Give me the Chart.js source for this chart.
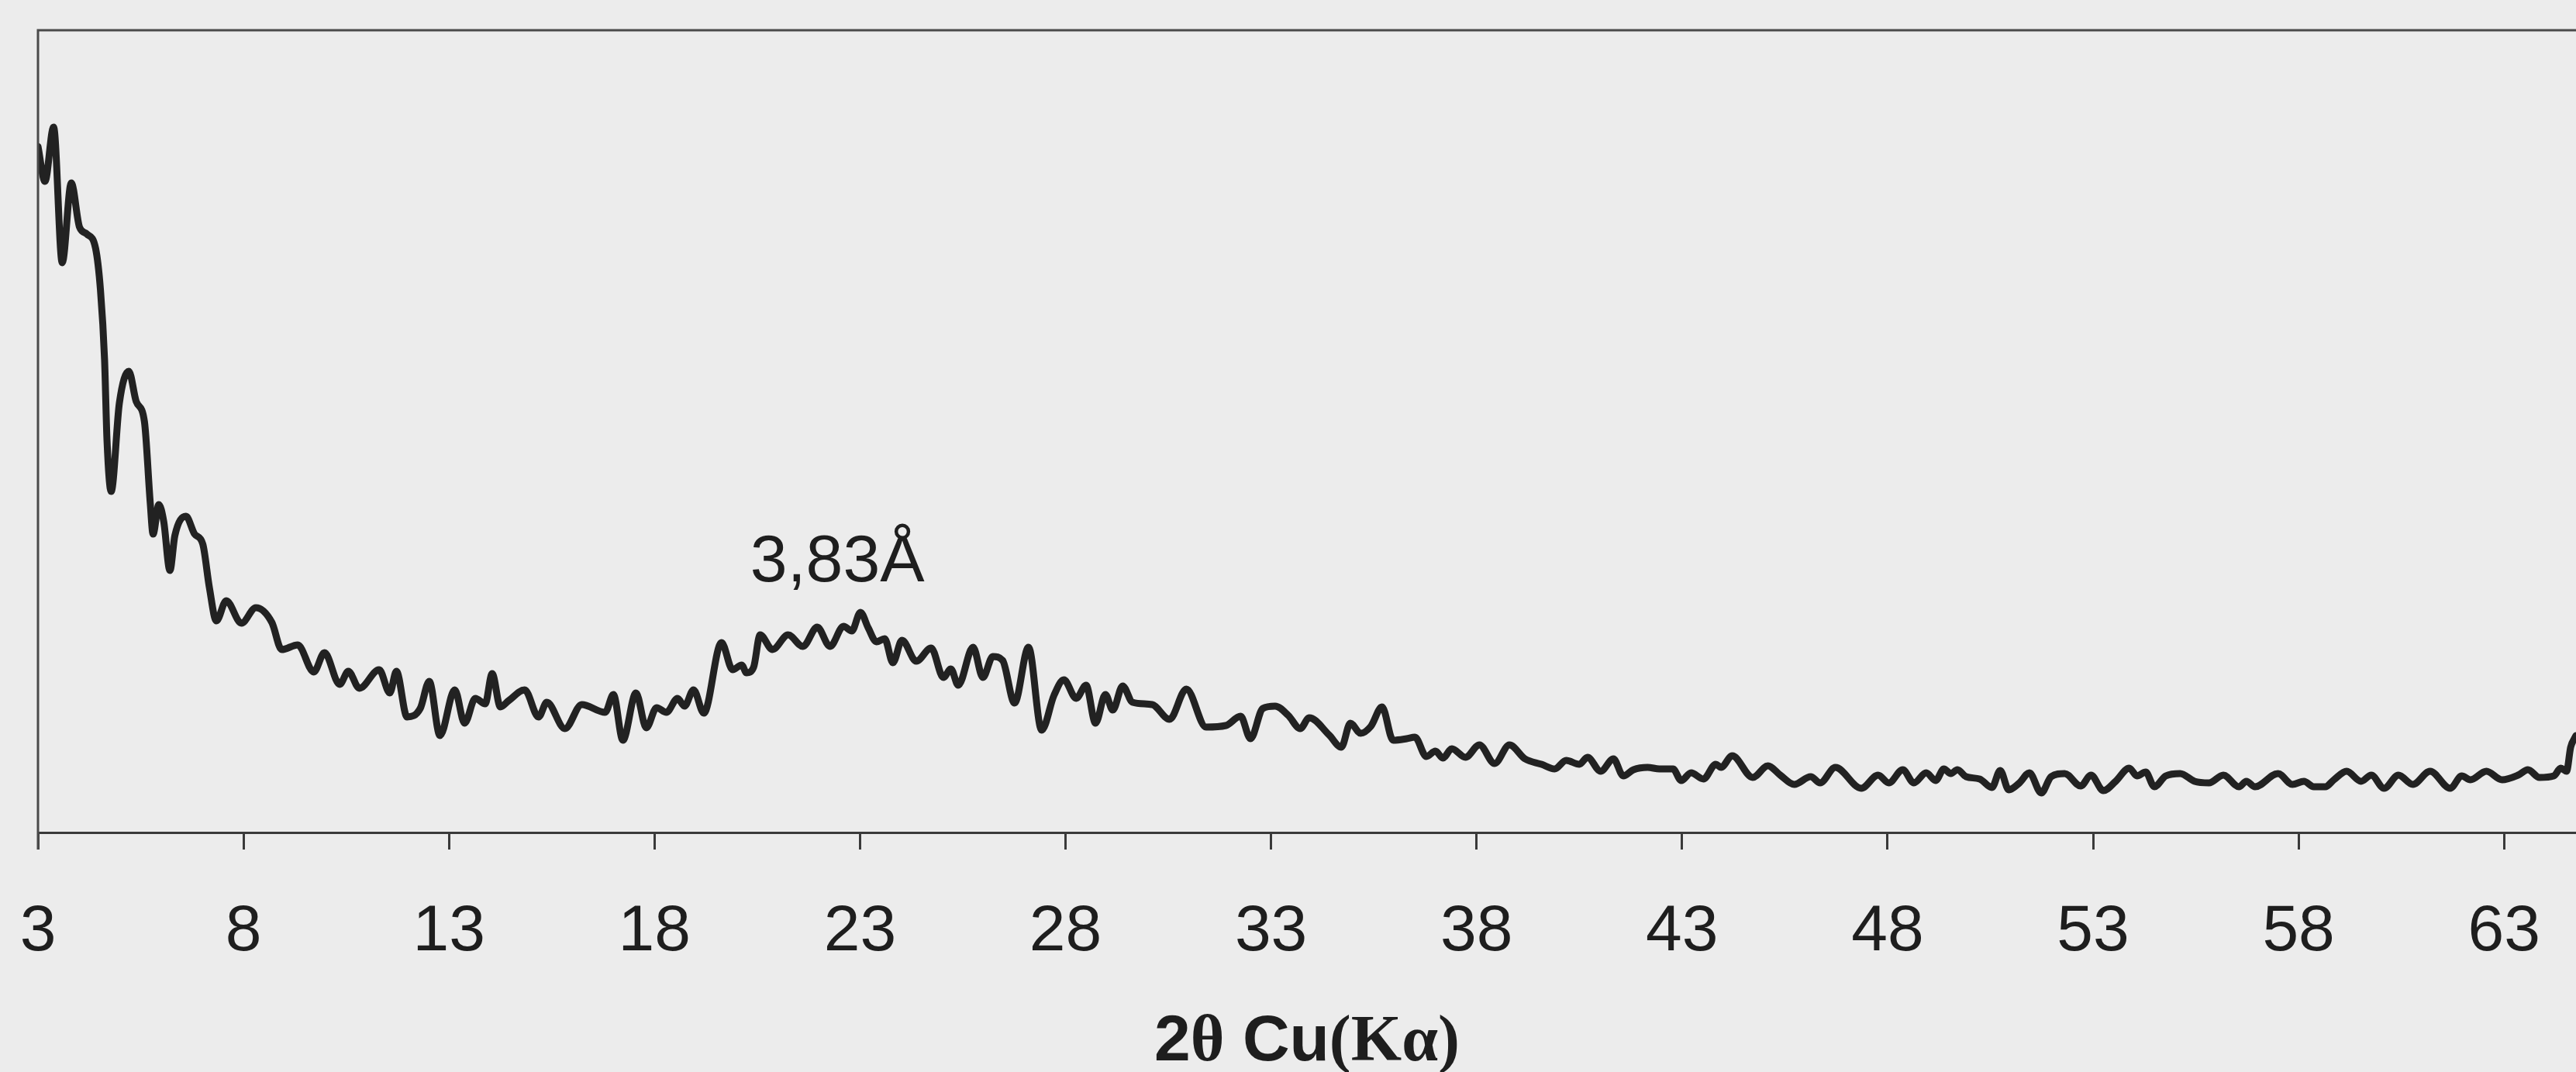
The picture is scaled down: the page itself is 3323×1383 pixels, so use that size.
<!DOCTYPE html>
<html>
<head>
<meta charset="utf-8">
<title>XRD 2θ scan</title>
<script src="https://cdn.jsdelivr.net/npm/chart.js@4.4.1/dist/chart.umd.min.js"></script>
<style>
  html, body { margin: 0; padding: 0; background: #ececec; }
  #wrap { width: 3323px; height: 1383px; }
</style>
</head>
<body>
<div id="wrap"><canvas id="xrd" width="3323" height="1383"></canvas></div>
<script>
// diffractogram trace, 2θ in degrees and intensity in arbitrary units
const twoTheta = [
  3.00, 3.17, 3.38, 3.59, 3.81, 4.01, 4.19, 4.40, 4.52, 4.62, 4.68, 4.78, 4.98, 5.21, 5.39, 5.59,
  5.73, 5.80, 5.94, 6.06, 6.21, 6.33, 6.60, 6.81, 7.01, 7.17, 7.34, 7.58, 7.95, 8.30, 8.69, 8.93,
  9.32, 9.71, 9.97, 10.34, 10.55, 10.82, 11.30, 11.56, 11.72, 11.98, 12.30, 12.52, 12.78, 13.14,
  13.38, 13.64, 13.88, 14.05, 14.25, 14.45, 14.84, 15.18, 15.38, 15.82, 16.23, 16.80, 17.00, 17.23,
  17.55, 17.80, 18.05, 18.29, 18.56, 18.73, 18.95, 19.20, 19.63, 19.90, 20.12, 20.24, 20.41, 20.57,
  20.87, 21.25, 21.61, 21.96, 22.27, 22.60, 22.80, 23.01, 23.20, 23.40, 23.60, 23.80, 24.02, 24.37,
  24.73, 25.03, 25.21, 25.39, 25.75, 25.99, 26.23, 26.47, 26.76, 27.10, 27.42, 27.72, 27.96, 28.26,
  28.50, 28.73, 28.97, 29.15, 29.39, 29.63, 30.11, 30.53, 30.94, 31.42, 31.90, 32.26, 32.50, 32.80,
  33.10, 33.42, 33.71, 33.93, 34.41, 34.71, 34.93, 35.18, 35.43, 35.70, 35.97, 36.30, 36.50, 36.78,
  37.00, 37.18, 37.40, 37.73, 38.07, 38.44, 38.80, 39.18, 39.58, 39.90, 40.18, 40.50, 40.70, 41.02,
  41.33, 41.57, 41.82, 42.16, 42.45, 42.78, 42.98, 43.22, 43.52, 43.82, 43.95, 44.22, 44.72, 45.09,
  45.39, 45.73, 46.13, 46.36, 46.73, 47.36, 47.77, 48.03, 48.37, 48.64, 48.94, 49.17, 49.37, 49.54,
  49.70, 49.91, 50.24, 50.54, 50.74, 50.95, 51.21, 51.45, 51.74, 51.98, 52.31, 52.70, 52.95, 53.25,
  53.55, 53.88, 54.07, 54.28, 54.49, 54.77, 55.12, 55.47, 55.82, 56.17, 56.55, 56.73, 56.94, 57.50,
  57.85, 58.13, 58.37, 58.65, 58.86, 59.17, 59.52, 59.77, 60.08, 60.43, 60.78, 61.20, 61.69, 61.97,
  62.18, 62.57, 62.95, 63.34, 63.58, 63.86, 64.21, 64.38, 64.52, 64.62, 64.75
];

const intensity = [
  885, 840, 910, 735, 838, 781, 772, 754, 700, 610, 505, 440, 554, 595, 556, 530,
  426, 385, 423, 401, 338, 383, 408, 385, 372, 316, 273, 299, 270, 290, 271, 236,
  242, 207, 232, 191, 208, 186, 210, 180, 208, 149, 160, 195, 125, 184,
  141, 173, 166, 205, 162, 170, 184, 149, 168, 134, 165, 155, 178, 119,
  180, 135, 161, 155, 173, 163, 184, 154, 245, 210, 216, 206, 213, 255,
  236, 255, 240, 265, 240, 266, 260, 284, 264, 246, 250, 219, 248, 221,
  238, 200, 211, 190, 239, 200, 227, 222, 167, 239, 132, 177, 197, 173,
  190, 141, 178, 158, 189, 168, 165, 146, 185, 136, 138, 150, 121, 160,
  163, 151, 134, 148, 126, 110, 141, 128, 137, 162, 119, 121, 123, 98,
  105, 96, 108, 97, 113, 89, 113, 95, 88, 82, 93, 88, 97, 79,
  95, 73, 81, 84, 82, 82, 67, 77, 69, 88, 84, 99, 71, 86,
  74, 62, 72, 64, 84, 57, 74, 64, 81, 64, 77, 67, 82, 76,
  81, 72, 69, 58, 80, 55, 64, 77, 51, 72, 76, 60, 74, 54,
  66, 83, 73, 78, 59, 73, 76, 66, 64, 74, 59, 66, 59, 76,
  62, 66, 59, 59, 68, 79, 66, 74, 57, 74, 62, 79, 57, 73,
  68, 79, 68, 74, 81, 71, 73, 83, 79, 110, 125
];

const tickValues = [3, 8, 13, 18, 23, 28, 33, 38, 43, 48, 53, 58, 63];

const peakLabel = '3,83Å';
const peakLabelAt = [22.45, 324]; // 2θ, intensity of the text baseline

// axis title is set in two faces: sans for "2" and "Cu", serif for θ and (Kα)
const titleParts = ['2', 'θ', ' Cu', '(Kα)'];
const titleSerif = [false, true, false, true];

const SANS = '"Liberation Sans", Arial, Helvetica, sans-serif';
const SERIF = '"Liberation Serif", "Times New Roman", serif';
const INK = '#1e1e1e';

const paper = {
  id: 'paper',
  beforeDraw(chart) {
    const { ctx, width, height } = chart;
    ctx.save();
    ctx.fillStyle = '#ececec';
    ctx.fillRect(0, 0, width, height);
    ctx.restore();
  },
  afterDraw(chart) {
    const { ctx, chartArea: a, scales: { x, y } } = chart;
    ctx.save();

    // top rule and left rule, the left one running down past the axis like a tick
    ctx.strokeStyle = '#4a4a4a';
    ctx.lineWidth = 3;
    ctx.beginPath();
    ctx.moveTo(a.left, a.bottom + 22);
    ctx.lineTo(a.left, a.top);
    ctx.lineTo(chart.width, a.top);
    ctx.stroke();

    // d-spacing of the broad hump
    ctx.fillStyle = INK;
    ctx.font = '86px ' + SANS;
    ctx.textAlign = 'center';
    ctx.textBaseline = 'alphabetic';
    ctx.fillText(peakLabel, x.getPixelForValue(peakLabelAt[0]), y.getPixelForValue(peakLabelAt[1]));

    // axis title
    const fonts = titleSerif.map(s => 'bold 84px ' + (s ? SERIF : SANS));
    const widths = titleParts.map((t, i) => { ctx.font = fonts[i]; return ctx.measureText(t).width; });
    const total = widths.reduce((s, w) => s + w, 0);
    let tx = (a.left + a.right) / 2 - total / 2;
    ctx.textAlign = 'left';
    titleParts.forEach((t, i) => {
      ctx.font = fonts[i];
      ctx.fillText(t, tx, 1368);
      tx += widths[i];
    });

    ctx.restore();
  }
};

const points = twoTheta.map((t, i) => ({ x: t, y: intensity[i] }));

new Chart(document.getElementById('xrd'), {
  type: 'line',
  data: {
    datasets: [{
      data: points,
      borderColor: '#222222',
      borderWidth: 9,
      borderJoinStyle: 'round',
      borderCapStyle: 'round',
      pointRadius: 0,
      cubicInterpolationMode: 'monotone',
      fill: false
    }]
  },
  options: {
    responsive: false,
    animation: false,
    layout: { padding: { left: 49, top: 39, right: 0, bottom: 0 } },
    plugins: { legend: { display: false }, tooltip: { enabled: false } },
    scales: {
      x: {
        type: 'linear',
        min: 3,
        max: 64.75,
        afterBuildTicks: scale => { scale.ticks = tickValues.map(v => ({ value: v })); },
        afterFit: scale => {
          scale.height = 309;
          // keep the edge labels from pushing the plot area inwards
          scale.paddingLeft = 0;
          scale.paddingRight = 0;
        },
        border: { display: true, color: '#3a3a3a', width: 3 },
        grid: {
          drawOnChartArea: false,
          drawTicks: true,
          tickLength: 22,
          tickWidth: 3,
          tickColor: '#3a3a3a'
        },
        ticks: {
          autoSkip: false,
          maxRotation: 0,
          padding: 56,
          color: INK,
          font: { family: SANS, size: 84 },
          callback: v => String(v)
        }
      },
      y: {
        display: false,
        min: 0,
        max: 1035
      }
    }
  },
  plugins: [paper]
});
</script>
</body>
</html>
